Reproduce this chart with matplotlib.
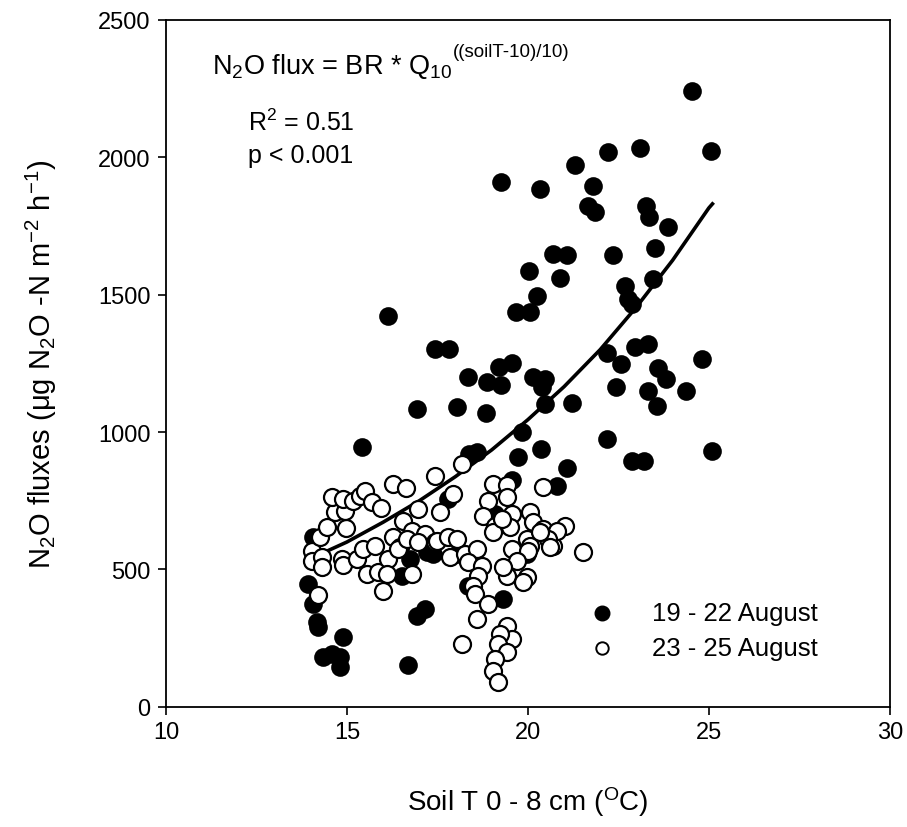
import matplotlib
matplotlib.use('Agg')
from matplotlib import pyplot as plt

plt.rcParams['font.family'] = ['Liberation Sans', 'DejaVu Sans']
plt.rcParams['mathtext.fontset'] = 'custom'
plt.rcParams['mathtext.rm'] = 'Liberation Sans'
plt.rcParams['mathtext.it'] = 'Liberation Sans:italic'
plt.rcParams['mathtext.default'] = 'regular'

# 19 - 22 August (filled)
aug19_t = [24.53, 25.06, 23.09, 22.21, 21.30, 19.25, 20.33, 21.80, 21.66, 21.85,
           23.26, 23.34, 23.87, 23.51, 20.69, 21.08, 22.35, 20.03, 20.88, 22.68,
           23.45, 20.25, 22.76, 22.87, 19.67, 20.06, 16.13, 17.43, 17.82, 19.20,
           19.56, 18.34, 18.87, 19.25, 20.14, 20.47, 20.39, 22.18, 22.57, 22.96,
           23.31, 24.81, 23.59, 23.81, 22.43, 23.31, 24.36, 23.56, 20.47, 21.22,
           16.93, 18.04, 18.84, 19.83, 22.18, 25.08, 20.36, 19.72, 22.87, 23.20,
           21.08, 20.80, 15.41, 18.37, 18.59, 19.56, 17.79, 16.74, 16.52, 17.21,
           17.38, 18.04, 19.09, 18.34, 19.97, 19.31, 14.89, 16.93, 17.15, 16.69,
           14.06, 13.92, 14.06, 14.17, 14.20, 14.34, 14.59, 14.81, 14.81]
aug19_flux = [2242, 2023, 2034, 2020, 1972, 1910, 1885, 1896, 1823, 1801,
              1823, 1783, 1747, 1670, 1648, 1645, 1645, 1587, 1561, 1532,
              1557, 1496, 1485, 1467, 1437, 1437, 1423, 1303, 1303, 1237,
              1252, 1201, 1183, 1172, 1201, 1194, 1164, 1288, 1248, 1310,
              1321, 1266, 1234, 1194, 1164, 1150, 1150, 1095, 1103, 1106,
              1084, 1092, 1070, 1001, 975, 932, 939, 910, 895, 895,
              870, 804, 946, 921, 928, 826, 757, 539, 477, 564,
              557, 557, 702, 440, 557, 393, 255, 331, 357, 153,
              619, 448, 375, 309, 291, 182, 193, 182, 146]

# 23 - 25 August (open)
aug23_t = [14.03, 14.03, 14.31, 14.31, 14.25, 14.45, 14.97, 14.67, 14.94, 14.59,
           14.89, 15.17, 15.36, 15.50, 15.69, 15.94, 14.86, 14.89, 15.28, 15.44,
           15.77, 16.27, 16.55, 16.80, 16.96, 15.55, 15.86, 16.13, 16.10, 16.80,
           16.46, 15.99, 14.20, 17.15, 17.43, 16.27, 16.63, 17.43, 18.18, 17.93,
           17.57, 16.41, 16.66, 16.96, 17.49, 17.79, 18.04, 17.85, 18.26, 18.59,
           18.34, 18.73, 18.62, 18.48, 18.54, 18.90, 18.59, 18.18, 19.42, 19.56,
           19.23, 19.17, 19.42, 19.09, 19.03, 19.17, 19.03, 19.42, 19.42, 19.56,
           18.90, 18.76, 19.09, 19.31, 19.50, 19.03, 20.06, 20.14, 20.41, 20.69,
           21.02, 20.80, 20.55, 19.97, 20.06, 19.56, 20.00, 19.70, 19.97, 19.42,
           19.31, 20.41, 19.28, 20.33, 20.61, 19.86, 21.52]
aug23_flux = [568, 531, 546, 509, 619, 655, 651, 710, 713, 764,
              757, 750, 768, 786, 746, 724, 539, 517, 539, 575,
              586, 619, 677, 640, 721, 484, 491, 539, 484, 484,
              582, 422, 408, 630, 600, 811, 797, 841, 884, 775,
              710, 575, 611, 600, 604, 619, 611, 546, 557, 575,
              528, 513, 477, 440, 411, 375, 320, 229, 295, 247,
              266, 229, 200, 175, 131, 91, 811, 808, 764, 702,
              750, 695, 659, 666, 655, 637, 710, 673, 648, 586,
              659, 640, 611, 611, 586, 575, 568, 531, 473, 477,
              509, 801, 684, 637, 582, 455, 564]

# fitted curve N2O = BR * Q10^((T-10)/10)
fit_t = [14.0, 15.0, 16.0, 17.0, 18.0, 19.0, 20.0, 21.0, 22.0, 23.0, 24.0, 25.0, 25.1]
fit_flux = [540, 600, 672, 750, 838, 935, 1045, 1165, 1300, 1455, 1625, 1815, 1830]

fig = plt.figure(figsize=(9.07, 8.28), dpi=100)
ax = fig.add_axes([0.183, 0.145, 0.798, 0.830])

ax.plot(fit_t, fit_flux, color='black', lw=2.6, zorder=1)
ax.scatter(aug19_t, aug19_flux, s=150, c='black', edgecolors='black', linewidths=1.2, zorder=2)
ax.scatter(aug23_t, aug23_flux, s=150, c='white', edgecolors='black', linewidths=1.6, zorder=3)

ax.set_xlim(10, 30)
ax.set_ylim(0, 2500)
ax.set_xticks([10, 15, 20, 25, 30])
ax.set_yticks([0, 500, 1000, 1500, 2000, 2500])
ax.tick_params(direction='out', length=6, width=1.2, labelsize=17, pad=5)
ax.tick_params(axis='x', pad=4)
for sp in ax.spines.values():
    sp.set_linewidth(1.3)

ax.set_xlabel('Soil T 0 - 8 cm ($^{O}$C)', fontsize=20, labelpad=30)
ax.set_ylabel('N$_2$O fluxes (μg N$_2$O -N m$^{-2}$ h$^{-1}$)', fontsize=21, labelpad=28)

# equation: exponent drawn as its own text so the hyphens stay plain
eq = ax.text(0.0635, 0.923, 'N$_2$O flux = BR * Q$_{10}$',
             transform=ax.transAxes, fontsize=19.5, va='baseline')
ax.annotate('((soilT-10)/10)', xy=(1.0, 0.80), xycoords=eq, xytext=(1, 0),
            textcoords='offset points', fontsize=13.5, va='baseline', ha='left')
ax.text(0.113, 0.840, 'R$^2$ = 0.51', transform=ax.transAxes, fontsize=18, va='baseline')
ax.text(0.113, 0.793, 'p < 0.001', transform=ax.transAxes, fontsize=18, va='baseline')

ax.scatter([], [], s=110, c='black', label='19 - 22 August')
ax.scatter([], [], s=80, c='white', edgecolors='black', linewidths=1.4, label='23 - 25 August')
ax.legend(loc='lower left', bbox_to_anchor=(0.553, 0.054), frameon=False, fontsize=18.5,
          handletextpad=0.95, labelspacing=0.42, borderaxespad=0)

fig.savefig('out.png', dpi=100)
